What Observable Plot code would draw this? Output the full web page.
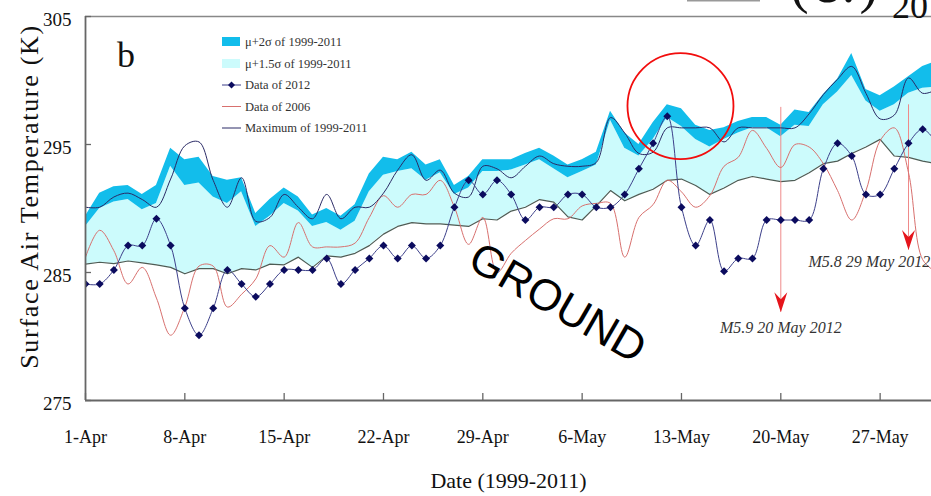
<!DOCTYPE html>
<html>
<head>
<meta charset="utf-8">
<script src="https://cdn.jsdelivr.net/npm/d3@7"></script>
<script src="https://cdn.jsdelivr.net/npm/@observablehq/plot@0.6"></script>
<style>
  html, body { margin: 0; padding: 0; background: #fff; }
  #wrap { position: relative; width: 931px; height: 496px; overflow: hidden; background: #fff; }
  #overlay { position: absolute; left: 0; top: 0; pointer-events: none; }
  .ylab text { letter-spacing: 1.7px; }
</style>
</head>
<body>
<div id="wrap"><div id="chart"></div></div>
<script>
// ---------- data (day index 0 = 1 April) ----------
const startDate = Date.UTC(2012, 3, 1);
const dayIndex = d3.range(61);

// upper edge of the dark band: mu + 2 sigma (1999-2011)
const mu2sigma = [289.4, 291.2, 291.7, 291.8, 291.1, 291.8, 294.7, 293.8, 294.0, 292.5,
  292.2, 292.4, 289.6, 290.7, 291.6, 290.9, 289.5, 290.0, 289.4, 290.3,
  292.7, 294.0, 293.8, 294.4, 293.4, 293.8, 291.8, 292.5, 293.8, 293.8,
  293.8, 294.3, 294.7, 294.1, 293.4, 293.8, 294.4, 297.6, 295.9, 295.0,
  296.7, 298.1, 297.8, 296.5, 296.1, 296.3, 296.8, 297.1, 297.1, 296.5,
  297.7, 297.5, 298.9, 300.1, 302.1, 299.3, 298.8, 299.5, 300.3, 301.1, 301.5];

// mu + 1.5 sigma (1999-2011)
const mu15sigma = [288.6, 290.0, 290.5, 290.7, 289.9, 290.4, 293.3, 291.8, 292.0, 290.9,
  290.4, 291.3, 288.6, 289.4, 290.4, 289.8, 288.6, 288.9, 288.3, 289.0,
  291.3, 292.6, 292.9, 293.1, 292.2, 292.8, 291.1, 291.6, 292.9, 292.9,
  293.0, 293.4, 293.8, 293.1, 292.4, 292.9, 293.4, 296.9, 294.7, 294.1,
  295.4, 297.1, 296.4, 295.4, 294.8, 295.4, 295.9, 296.3, 296.3, 295.6,
  296.5, 296.4, 298.1, 299.1, 300.4, 298.4, 297.6, 298.1, 299.0, 299.4, 299.5];

// lower boundary of the light band
const bandLower = [285.65, 285.8, 285.7, 285.9, 285.75, 285.6, 285.4, 284.9, 285.3, 285.3,
  284.9, 285.3, 285.2, 285.65, 285.6, 286.2, 285.4, 286.3, 286.2, 286.5,
  287.1, 288.0, 288.6, 288.9, 288.8, 288.8, 288.7, 288.6, 289.2, 289.1,
  289.8, 290.1, 290.7, 290.5, 289.35, 289.1, 290.2, 291.4, 290.6, 291.1,
  291.5, 292.2, 292.3, 291.8, 291.1, 291.6, 292.2, 292.5, 292.3, 292.1,
  292.2, 292.8, 293.5, 293.7, 294.3, 294.8, 295.4, 294.1, 294.0, 293.7, 293.5];

// Data of 2012
const data2012 = [284.1, 284.1, 285.2, 287.1, 287.1, 289.2, 287.1, 282.2, 280.1, 282.2,
  285.2, 284.1, 283.1, 284.1, 285.2, 285.2, 285.2, 286.1, 284.1, 285.2,
  286.1, 287.1, 286.1, 287.1, 286.1, 287.1, 290.1, 292.2, 291.1, 292.2,
  291.1, 289.1, 290.1, 290.1, 291.1, 291.1, 290.1, 290.1, 291.1, 293.1,
  295.1, 297.2, 290.1, 287.1, 289.1, 285.1, 286.1, 286.1, 289.1, 289.1,
  289.1, 289.1, 293.1, 295.1, 294.1, 291.1, 291.1, 293.1, 295.1, 296.2, 295.1];

// Data of 2006
const data2006 = [286.2, 288.3, 286.7, 284.1, 285.4, 283.0, 280.1, 282.3, 285.5, 285.5,
  282.3, 283.3, 284.5, 287.1, 286.2, 288.9, 287.0, 287.0, 287.0, 287.3,
  289.3, 291.0, 290.1, 291.1, 291.1, 292.2, 290.1, 287.2, 289.3, 285.0,
  286.5, 287.5, 288.4, 289.2, 289.2, 290.2, 290.4, 290.4, 286.2, 289.3,
  290.3, 292.2, 291.3, 290.1, 291.0, 293.3, 294.0, 296.1, 294.7, 293.2,
  295.0, 294.8, 293.5, 291.4, 289.1, 291.4, 295.3, 296.3, 292.8, 286.0, 285.0];

// Maximum of 1999-2011
const max9911 = [290.1, 290.1, 290.9, 291.2, 290.7, 290.1, 292.3, 294.9, 295.2, 292.2,
  290.1, 292.4, 289.0, 289.3, 291.1, 290.1, 289.2, 291.1, 289.2, 290.1,
  290.1, 291.2, 293.0, 294.2, 292.2, 293.0, 291.2, 290.9, 293.3, 293.1,
  292.4, 293.3, 294.1, 293.5, 293.3, 293.3, 293.6, 297.1, 295.9, 294.3,
  294.4, 296.3, 296.3, 296.3, 296.3, 295.2, 296.3, 296.3, 296.3, 296.3,
  296.3, 297.4, 298.9, 300.1, 301.1, 299.0, 297.0, 297.3, 300.2, 299.0, 299.3];

// axis ticks
const xTickDays = [0, 7, 14, 21, 28, 35, 42, 49, 56];
const xTickLabels = ["1-Apr", "8-Apr", "15-Apr", "22-Apr", "29-Apr", "6-May", "13-May", "20-May", "27-May"];
const yTicks = [275, 285, 295, 305];
const yDomain = [275, 305];
const xDomainDays = [0, 59.62];

// annotations (data coordinates: day index, K)
const quakes = [
  {day: 49, top: 297.9, tip: 281.9, label: "M5.9 20 May 2012", labelDay: 49, labelT: 280.7, anchor: "middle"},
  {day: 58, top: 298.1, tip: 286.75, label: "M5.8 29 May 2012", labelDay: 50.95, labelT: 285.8, anchor: "start"}
];
const circleNote = [{day: 41.93, t: 298.0}];
const groundNote = [{day: 33.26, t: 282.6, text: "GROUND"}];

const legendItems = ["\u03bc+2\u03c3 of 1999-2011", "\u03bc+1.5\u03c3 of 1999-2011", "Data of 2012", "Data of 2006", "Maximum of 1999-2011"];

// ---------- build ----------
const day = d => new Date(startDate + d * 864e5);
const rows = dayIndex.map((d, i) => ({
  date: day(d), s2: mu2sigma[i], s15: mu15sigma[i], lower: bandLower[i],
  y2012: data2012[i], y2006: data2006[i], max: max9911[i]
}));
const xTicks = xTickDays.map(day);
const qRows = quakes.map(q => ({...q, date: day(q.day), ldate: day(q.labelDay)}));

const C = {
  dark: "#12bdeb", light: "#ccfbfc", lower: "#4d5c55", red: "#d8706e",
  max: "#2a2a66", line12: "#3c3f8a", dot12: "#0b0b5e", axis: "#666"
};

const chevron = {
  draw(ctx) {
    ctx.moveTo(0, 0);
    ctx.lineTo(-6.5, -20);
    ctx.lineTo(0, -13);
    ctx.lineTo(6.5, -20);
    ctx.closePath();
  }
};

const labelStyle = {x: "ldate", y: "labelT", text: "label", fontStyle: "italic",
  fontSize: 16, fill: "#333", fontFamily: "Liberation Serif"};

const chart = Plot.plot({
  width: 931, height: 496,
  marginLeft: 85, marginRight: 0, marginTop: 16, marginBottom: 96,
  style: {fontFamily: "Liberation Serif", background: "white", color: "#111", overflow: "hidden"},
  x: {type: "utc", domain: xDomainDays.map(day)},
  y: {domain: yDomain},
  marks: [
    Plot.areaY(rows, {x: "date", y1: "lower", y2: "s15", fill: C.light}),
    Plot.areaY(rows, {x: "date", y1: "s15", y2: "s2", fill: C.dark}),
    Plot.line(rows, {x: "date", y: "lower", stroke: C.lower, strokeWidth: 1.2}),
    Plot.ruleX(qRows, {x: "date", y1: "top", y2: "tip", stroke: "#ef8a8a", strokeWidth: 1}),
    Plot.line(rows, {x: "date", y: "y2006", stroke: C.red, strokeWidth: 1, curve: "catmull-rom", clip: true}),
    Plot.line(rows, {x: "date", y: "max", stroke: C.max, strokeWidth: 1, curve: "catmull-rom", clip: true}),
    Plot.line(rows, {x: "date", y: "y2012", stroke: C.line12, strokeWidth: 1, curve: "catmull-rom", clip: true}),
    Plot.dot(rows, {x: "date", y: "y2012", symbol: "diamond2", r: 3.6, fill: C.dot12, stroke: "none", clip: true}),
    Plot.dot(qRows, {x: "date", y: "tip", symbol: chevron, r: 5, fill: "#e5141b", stroke: "none"}),
    Plot.text(qRows.filter(q => q.anchor === "middle"), {...labelStyle, textAnchor: "middle"}),
    Plot.text(qRows.filter(q => q.anchor === "start"), {...labelStyle, textAnchor: "start"}),
    Plot.dot(circleNote, {x: d => day(d.day), y: "t", r: 53, stroke: "#f20d0d", strokeWidth: 1.8, fill: "none"}),
    Plot.text(groundNote, {x: d => day(d.day), y: "t", text: "text", rotate: 30, fontSize: 44,
      fontFamily: "Liberation Sans", fill: "#000"}),
    // frame
    Plot.ruleY([yDomain[1]], {stroke: "#888", strokeWidth: 1.5}),
    Plot.ruleY([yDomain[0]], {stroke: C.axis, strokeWidth: 1.8}),
    Plot.ruleX([day(xDomainDays[0])], {stroke: C.axis, strokeWidth: 1.8}),
    // axes
    Plot.axisY(yTicks, {tickSize: 0, tickPadding: 14, dy: 3, fontSize: 19, label: null, fill: "#111"}),
    Plot.axisY(yTicks, {tickSize: -6, tickFormat: () => "", label: null, stroke: C.axis, strokeWidth: 1.3}),
    Plot.axisX(xTicks, {tickSize: 0, tickPadding: 30, fontSize: 18, label: null, fill: "#111",
      tickFormat: (d, i) => xTickLabels[i]}),
    Plot.axisX(xTicks, {tickSize: -7, tickFormat: () => "", label: null, stroke: C.axis, strokeWidth: 1.3}),
    Plot.text(["Date (1999-2011)"], {frameAnchor: "bottom", dy: 80, textAnchor: "middle", lineAnchor: "middle",
      fontSize: 22, fill: "#111"}),
    Plot.text(["Surface Air Temperature (K)"], {frameAnchor: "left", dx: -56, dy: -12, rotate: -90,
      textAnchor: "middle", lineAnchor: "middle", fontSize: 26, fill: "#111", className: "ylab"})
  ]
});
document.getElementById("chart").appendChild(chart);

// overlay: panel letter, in-plot legend, cropped heading fragment at top right
const ns = "http://www.w3.org/2000/svg";
const ov = document.createElementNS(ns, "svg");
ov.setAttribute("id", "overlay");
ov.setAttribute("width", 931);
ov.setAttribute("height", 496);
ov.style.fontFamily = "Liberation Serif";
const legendRowY = [41.5, 63.5, 85, 106.5, 128];
let html = `<text x="117" y="67" font-size="36" fill="#111">b</text>`;
html += `<rect x="222" y="37" width="18" height="9" fill="${C.dark}"/>`;
html += `<rect x="222" y="59" width="18" height="9" fill="${C.light}"/>`;
html += `<line x1="222" x2="241" y1="85" y2="85" stroke="${C.line12}" stroke-width="1"/>`;
html += `<path d="M231.5,81.5L235,85L231.5,88.5L228,85Z" fill="${C.dot12}"/>`;
html += `<line x1="222" x2="241" y1="106.5" y2="106.5" stroke="${C.red}" stroke-width="1"/>`;
html += `<line x1="222" x2="241" y1="128" y2="128" stroke="${C.max}" stroke-width="1"/>`;
legendItems.forEach((t, i) => {
  html += `<text x="245" y="${legendRowY[i] + 4.3}" font-size="12.5" fill="#333">${t}</text>`;
});
html += `<rect x="687" y="0" width="73" height="1.5" fill="#999"/>`;
html += `<text x="790" y="2" font-size="56" letter-spacing="4" fill="#111">(c.)</text>`;
html += `<text x="892" y="18" font-size="36" fill="#111">20</text>`;
ov.innerHTML = html;
document.getElementById("wrap").appendChild(ov);
</script>
</body>
</html>
